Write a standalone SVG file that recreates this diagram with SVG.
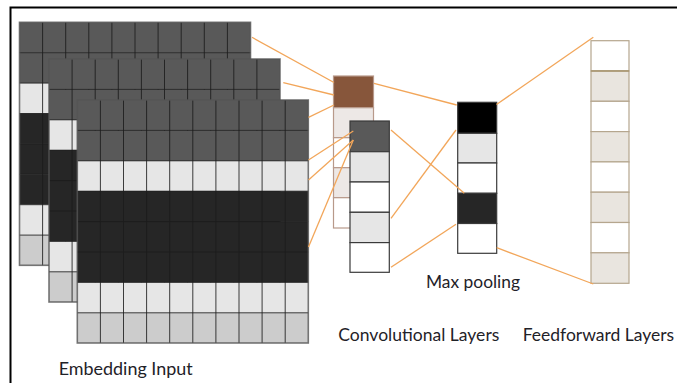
<svg xmlns="http://www.w3.org/2000/svg" xmlns:xlink="http://www.w3.org/1999/xlink" width="677" height="383" viewBox="0 0 677 383">
<style>
.lbl{font-family:"Lato","Open Sans","Liberation Sans",sans-serif;font-size:17px;fill:#1f2228}
.conn line{stroke:#f2a65a;stroke-width:1.3;fill:none}
.gl{stroke:#1c1c1c;stroke-width:1;stroke-opacity:0.85}
.dg{fill:#595959}.lt{fill:#e6e6e6}.bk{fill:#262626}.gy{fill:#cccccc}.wh{fill:#ffffff}
.cv rect{stroke:#3a3a3a;stroke-width:1.2}
.br rect{stroke:#b8998a;stroke-width:1.2}
.ff rect{stroke:#b5a68e;stroke-width:1.2}
</style>
<defs>
<g id="grid">
<rect x="0" y="0" width="231" height="30.4" class="dg"/>
<rect x="0" y="30.4" width="231" height="30.4" class="dg"/>
<rect x="0" y="60.8" width="231" height="30.4" class="lt"/>
<rect x="0" y="91.2" width="231" height="30.4" class="bk"/>
<rect x="0" y="121.6" width="231" height="30.4" class="bk"/>
<rect x="0" y="152" width="231" height="30.4" class="bk"/>
<rect x="0" y="182.4" width="231" height="30.4" class="lt"/>
<rect x="0" y="212.8" width="231" height="30.2" class="gy"/>
<path class="gl" fill="none" d="M0,30.4H231M0,60.8H231M0,91.2H231M0,121.6H231M0,152H231M0,182.4H231M0,212.8H231M23.1,0V243M46.2,0V243M69.3,0V243M92.4,0V243M115.5,0V243M138.6,0V243M161.7,0V243M184.8,0V243M207.9,0V243"/>
<rect x="0" y="0" width="231" height="243" fill="none" stroke="#555" stroke-width="1.6" stroke-opacity="0.8"/>
</g>
</defs>
<rect x="0" y="0" width="677" height="383" fill="#ffffff"/>
<path d="M10.5,383V7.5H677" fill="none" stroke="#000" stroke-width="2"/>

<g id="embedding-1"><use xlink:href="#grid" href="#grid" x="19.5" y="22.3"/></g>
<g id="embedding-2"><use xlink:href="#grid" href="#grid" x="49" y="59"/></g>
<g id="embedding-3"><use xlink:href="#grid" href="#grid" x="77.3" y="100"/></g>

<g id="conv-brown" class="br">
<rect x="333.5" y="76" width="40" height="31.7" fill="#87563b"/>
<rect x="333.5" y="107.7" width="40" height="30" fill="#ede8e6"/>
<rect x="333.5" y="137.7" width="40" height="30" fill="#ffffff"/>
<rect x="333.5" y="167.7" width="40" height="30" fill="#ede8e6"/>
<rect x="333.5" y="197.7" width="40" height="30.3" fill="#ffffff"/>
</g>
<g id="conv-gray" class="cv">
<rect x="350" y="121" width="39.3" height="30.7" class="dg"/>
<rect x="350" y="151.7" width="39.3" height="30.3" class="lt"/>
<rect x="350" y="182" width="39.3" height="30.3" class="wh"/>
<rect x="350" y="212.3" width="39.3" height="30.3" class="lt"/>
<rect x="350" y="242.6" width="39.3" height="29.7" class="wh"/>
</g>
<g id="max-pooling" class="cv">
<rect x="457.7" y="102.3" width="39" height="31" fill="#000"/>
<rect x="457.7" y="133.3" width="39" height="29.7" class="lt"/>
<rect x="457.7" y="163" width="39" height="30.3" class="wh"/>
<rect x="457.7" y="193.3" width="39" height="30.2" class="bk"/>
<rect x="457.7" y="223.5" width="39" height="29.8" class="wh"/>
</g>
<g id="feedforward" class="ff">
<rect x="591" y="40.7" width="38" height="30.3" fill="#ffffff"/>
<rect x="591" y="71" width="38" height="30.3" fill="#e9e5df"/>
<rect x="591" y="101.3" width="38" height="30.3" fill="#ffffff"/>
<rect x="591" y="131.6" width="38" height="30.3" fill="#e9e5df"/>
<rect x="591" y="161.9" width="38" height="30.3" fill="#ffffff"/>
<rect x="591" y="192.2" width="38" height="30.3" fill="#e9e5df"/>
<rect x="591" y="222.5" width="38" height="30.3" fill="#ffffff"/>
<rect x="591" y="252.8" width="38" height="30.5" fill="#e9e5df"/>
<line x1="591" y1="71" x2="629" y2="71" stroke="#a8966f" stroke-width="1.6"/>
</g>

<g id="connectors" class="conn">
<line x1="252" y1="37.3" x2="334" y2="82.5"/>
<line x1="283.3" y1="82.7" x2="334" y2="95"/>
<line x1="308.5" y1="117.3" x2="334" y2="105"/>
<line x1="308.5" y1="160" x2="353.3" y2="131"/>
<line x1="308.5" y1="180" x2="353.3" y2="140"/>
<line x1="308.5" y1="247" x2="353.3" y2="140"/>
<line x1="374" y1="83.3" x2="456.7" y2="105"/>
<line x1="391" y1="130" x2="464.3" y2="193.3"/>
<line x1="391" y1="218.3" x2="456" y2="130"/>
<line x1="391" y1="267.3" x2="456" y2="224.3"/>
<line x1="496.5" y1="104.5" x2="593.3" y2="37.3"/>
<line x1="496.7" y1="247.7" x2="593.3" y2="284"/>
</g>

<g id="labels">
<text class="lbl" x="58.7" y="375" textLength="134" lengthAdjust="spacingAndGlyphs">Embedding Input</text>
<text class="lbl" x="426" y="288" textLength="94" lengthAdjust="spacingAndGlyphs">Max pooling</text>
<text class="lbl" x="338.3" y="340.5" textLength="161" lengthAdjust="spacingAndGlyphs">Convolutional Layers</text>
<text class="lbl" x="522.7" y="340.5" textLength="151.5" lengthAdjust="spacingAndGlyphs">Feedforward Layers</text>
</g>
</svg>
